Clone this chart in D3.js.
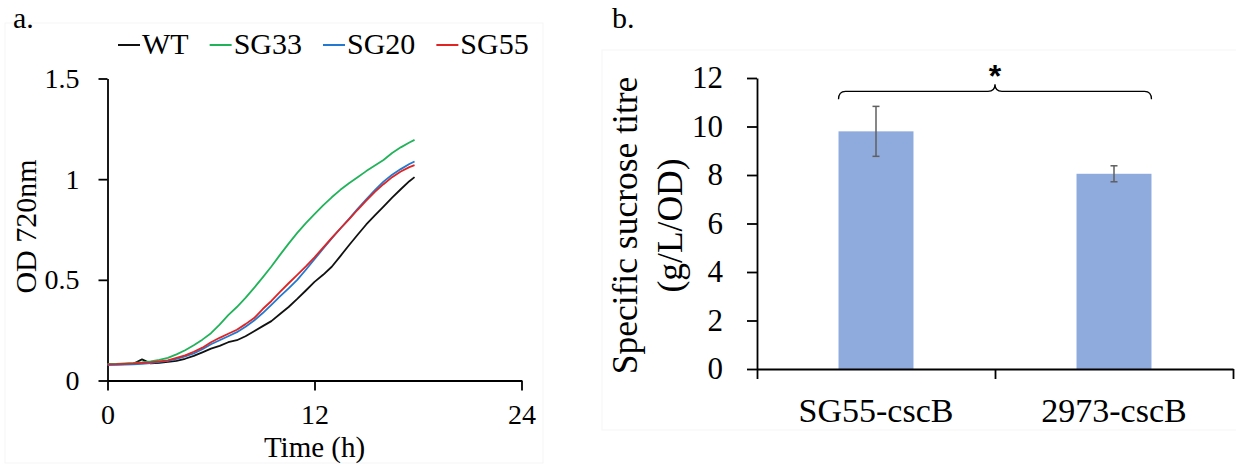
<!DOCTYPE html>
<html>
<head>
<meta charset="utf-8">
<script src="https://cdn.jsdelivr.net/npm/d3@7"></script>
<style>
  html, body { margin: 0; padding: 0; background: #fff; }
</style>
</head>
<body>
<div id="chart"></div>
<script>
// data =======================================================
// panel a: growth curves (OD 720nm vs time in h)
const hours = [0, 0.5, 1, 1.5, 2, 2.5, 3, 3.5, 4, 4.5, 5, 5.5, 6, 6.5, 7, 7.5, 8, 8.5, 9, 9.5,
  10, 10.5, 11, 11.5, 12, 12.5, 13, 13.5, 14, 14.5, 15, 15.5, 16, 16.5, 17, 17.5, 17.8];
const odWT = [0.082, 0.080, 0.082, 0.083, 0.105, 0.085, 0.088, 0.092, 0.098, 0.108, 0.122, 0.140, 0.158, 0.172, 0.190, 0.200,
  0.220, 0.245, 0.270, 0.295, 0.330, 0.365, 0.405, 0.447, 0.490, 0.525, 0.565, 0.618, 0.672, 0.724, 0.775, 0.820,
  0.864, 0.908, 0.950, 0.990, 1.010];
const odSG33 = [0.082, 0.083, 0.085, 0.087, 0.090, 0.095, 0.103, 0.112, 0.130, 0.150, 0.175, 0.203, 0.235, 0.278, 0.325, 0.365,
  0.410, 0.460, 0.512, 0.566, 0.624, 0.680, 0.733, 0.782, 0.826, 0.870, 0.910, 0.947, 0.980, 1.010, 1.040, 1.068,
  1.095, 1.130, 1.158, 1.182, 1.195];
const odSG20 = [0.076, 0.078, 0.079, 0.080, 0.083, 0.087, 0.092, 0.097, 0.107, 0.120, 0.135, 0.155, 0.180, 0.200, 0.220, 0.240,
  0.267, 0.298, 0.335, 0.376, 0.418, 0.458, 0.500, 0.550, 0.602, 0.655, 0.706, 0.755, 0.803, 0.852, 0.900, 0.945,
  0.988, 1.022, 1.050, 1.075, 1.088];
const odSG55 = [0.080, 0.081, 0.083, 0.085, 0.088, 0.090, 0.095, 0.100, 0.112, 0.125, 0.143, 0.163, 0.190, 0.212, 0.232, 0.252,
  0.280, 0.310, 0.355, 0.395, 0.440, 0.483, 0.525, 0.567, 0.612, 0.660, 0.708, 0.755, 0.800, 0.848, 0.893, 0.937,
  0.975, 1.010, 1.038, 1.060, 1.070];
const strainNames = ['WT', 'SG33', 'SG20', 'SG55'];
const strainColors = ['#111111', '#22b35a', '#2379d0', '#e02424'];
const timeTicks = [0, 12, 24];
const odTicks = [0, 0.5, 1, 1.5];

// panel b: specific sucrose titre
const strains = ['SG55-cscB', '2973-cscB'];
const titre = [9.8, 8.05];
const titreErr = [1.03, 0.33];
const titreTicks = [0, 2, 4, 6, 8, 10, 12];

const SERIF = 'Liberation Serif';

// setup =======================================================
let width = 1236;
let height = 468;

let svg = d3.select('#chart')
  .append('svg')
  .attr('width', width)
  .attr('height', height);

// faint chart-area borders like the exported figure
svg.append('rect').attr('x', 5).attr('y', 23).attr('width', 538).attr('height', 440)
  .attr('fill', 'none').attr('stroke', '#f5f5f5');
svg.append('rect').attr('x', 602).attr('y', 50).attr('width', 640).attr('height', 380)
  .attr('fill', 'none').attr('stroke', '#f5f5f5');

// panel letters
svg.append('text').attr('x', 13).attr('y', 28).attr('font-size', 30).text('a.');
svg.append('text').attr('x', 612).attr('y', 28).attr('font-size', 30).text('b.');

// PANEL A ======================================================
let xA = d3.scaleLinear().domain([0, 24]).range([107.5, 521.5]);
let yA = d3.scaleLinear().domain([0, 1.5]).range([380.5, 78.5]);

let axA = svg.append('g');

axA.append('g')
  .attr('transform', `translate(0,${yA(0)})`)
  .call(d3.axisBottom(xA).tickValues(timeTicks).tickFormat(d3.format('d'))
    .tickSize(10).tickSizeOuter(0).tickPadding(14));

axA.append('g')
  .attr('transform', `translate(${xA(0)},0)`)
  .call(d3.axisLeft(yA).tickValues(odTicks).tickFormat(d => d)
    .tickSize(9).tickSizeOuter(0).tickPadding(19));

axA.selectAll('.domain, .tick line').attr('stroke', '#000').attr('stroke-width', 1.8);
axA.selectAll('.tick text').attr('font-size', 28);

// axis titles
svg.append('text')
  .attr('x', xA(12)).attr('y', 457)
  .attr('text-anchor', 'middle')
  .attr('font-size', 29)
  .text('Time (h)');

svg.append('text')
  .attr('transform', `translate(36,${(yA(0) + yA(1.5)) / 2 - 3}) rotate(-90)`)
  .attr('text-anchor', 'middle')
  .attr('font-size', 30)
  .text('OD 720nm');

// curves, drawn WT first so coloured ones sit on top
let series = [odWT, odSG33, odSG20, odSG55];
let line = d3.line()
  .x((d, i) => xA(hours[i]))
  .y(d => yA(d));

svg.append('g')
  .selectAll('path')
  .data(series)
  .join('path')
  .attr('d', line)
  .attr('fill', 'none')
  .attr('stroke', (d, i) => strainColors[i])
  .attr('stroke-width', 1.8)
  .attr('stroke-linejoin', 'round');

// legend along the top
let legend = svg.append('g').attr('transform', 'translate(118,54)');
let lx = 0;
strainNames.forEach((name, i) => {
  let item = legend.append('g').attr('transform', `translate(${lx},0)`);
  item.append('line')
    .attr('x1', 0).attr('x2', 22).attr('y1', -9).attr('y2', -9)
    .attr('stroke', strainColors[i]).attr('stroke-width', 2);
  let t = item.append('text').attr('x', 24).attr('font-size', 30)
    .attr('font-family', SERIF).text(name);
  lx += 24 + t.node().getComputedTextLength() + 21;
});

// PANEL B ======================================================
let xB = d3.scaleBand().domain(strains).range([757, 1233]);
let edgeB = d3.scaleLinear().domain([0, strains.length]).range(xB.range());
let yB = d3.scaleLinear().domain([0, 12]).range([369, 78]);
let barW = xB.bandwidth() * 0.315;
let barX = d => xB(d) + (xB.bandwidth() - barW) / 2;

// bars
svg.append('g')
  .selectAll('rect')
  .data(strains)
  .join('rect')
  .attr('x', d => barX(d))
  .attr('y', (d, i) => yB(titre[i]))
  .attr('width', barW)
  .attr('height', (d, i) => yB(0) - yB(titre[i]))
  .attr('fill', '#8faadc');

// error bars
let err = svg.append('g').attr('stroke', '#5f5f5f').attr('stroke-width', 1.5);
strains.forEach((s, i) => {
  let cx = xB(s) + xB.bandwidth() / 2;
  let hi = yB(titre[i] + titreErr[i]);
  let lo = yB(titre[i] - titreErr[i]);
  err.append('line').attr('x1', cx).attr('x2', cx).attr('y1', hi).attr('y2', lo);
  err.append('line').attr('x1', cx - 3.5).attr('x2', cx + 3.5).attr('y1', hi).attr('y2', hi);
  err.append('line').attr('x1', cx - 3.5).attr('x2', cx + 3.5).attr('y1', lo).attr('y2', lo);
});

let axB = svg.append('g');

// category labels at band centres
let catAxis = axB.append('g')
  .attr('transform', `translate(0,${yB(0)})`)
  .call(d3.axisBottom(xB).tickSize(0).tickSizeOuter(0).tickPadding(29))
  .call(g => g.select('.domain').remove());

// axis line with ticks at band edges
axB.append('g')
  .attr('transform', `translate(0,${yB(0)})`)
  .call(d3.axisBottom(edgeB).tickValues(d3.range(strains.length + 1)).tickFormat('')
    .tickSize(10).tickSizeOuter(0));

axB.append('g')
  .attr('transform', `translate(${xB.range()[0]},0)`)
  .call(d3.axisLeft(yB).tickValues(titreTicks).tickSize(10).tickSizeOuter(0).tickPadding(24));

axB.selectAll('.domain, .tick line').attr('stroke', '#000').attr('stroke-width', 1.8);
axB.selectAll('.tick text').attr('font-size', 31);
catAxis.selectAll('.tick text').attr('font-size', 34);

// y title on two lines
let yMid = (yB(0) + yB(12)) / 2 + 2;
svg.append('text')
  .attr('transform', `translate(637,${yMid}) rotate(-90)`)
  .attr('text-anchor', 'middle')
  .attr('font-size', 35.5)
  .text('Specific sucrose titre');
svg.append('text')
  .attr('transform', `translate(682,${yMid}) rotate(-90)`)
  .attr('text-anchor', 'middle')
  .attr('font-size', 35.5)
  .text('(g/L/OD)');

// significance bracket from bar 1 left edge to bar 2 right edge
let bx0 = barX(strains[0]);
let bx1 = barX(strains[1]) + barW;
let bmid = edgeB(1);
let by = yB(11.45);
let bracket = d3.path();
bracket.moveTo(bx0, by + 8);
bracket.quadraticCurveTo(bx0, by, bx0 + 7, by);
bracket.lineTo(bmid - 7, by);
bracket.quadraticCurveTo(bmid, by, bmid, by - 7);
bracket.quadraticCurveTo(bmid, by, bmid + 7, by);
bracket.lineTo(bx1 - 7, by);
bracket.quadraticCurveTo(bx1, by, bx1, by + 8);
svg.append('path')
  .attr('d', bracket.toString())
  .attr('fill', 'none')
  .attr('stroke', '#000')
  .attr('stroke-width', 1.3);

// every text in the serif face, then the star in a bold sans
svg.selectAll('g').attr('font-family', null);
svg.selectAll('text')
  .attr('font-family', SERIF)
  .style('font-family', `'${SERIF}', serif`)
  .attr('fill', '#000');

svg.append('text')
  .attr('x', bmid).attr('y', by - 4)
  .attr('text-anchor', 'middle')
  .attr('font-family', 'Liberation Sans')
  .attr('font-weight', 'bold')
  .attr('font-size', 32)
  .text('*');
</script>
</body>
</html>
